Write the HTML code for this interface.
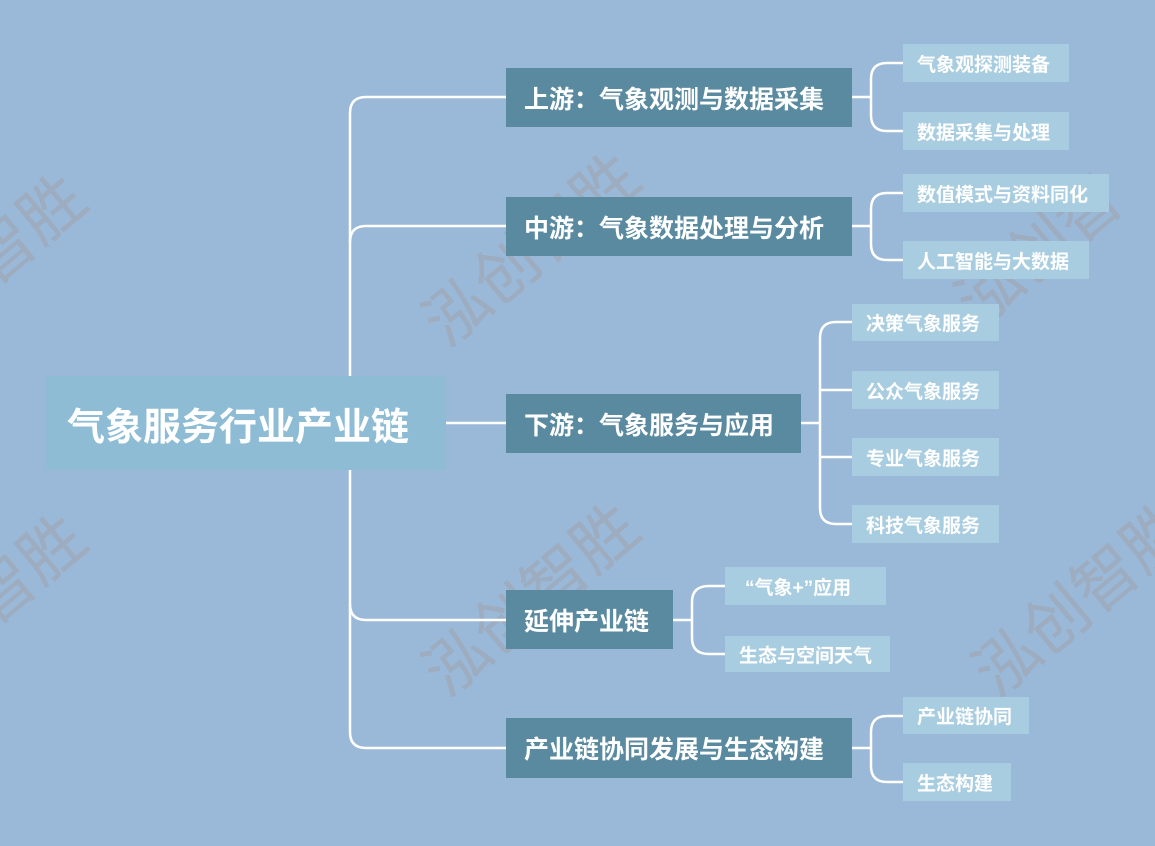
<!DOCTYPE html>
<html><head><meta charset="utf-8"><style>
body{margin:0;width:1155px;height:846px;background:#9ab8d7;position:relative;overflow:hidden;font-family:"Liberation Sans","Noto Sans CJK SC",sans-serif;}
.b{position:absolute;color:#fff;font-weight:bold;display:flex;align-items:center;white-space:nowrap;}
.r{background:#8dbcd4;font-size:38px;padding-left:22px;box-sizing:border-box;}
.m{background:#5a8aa0;font-size:25px;padding-left:18px;box-sizing:border-box;}
.l{background:#a9cde0;font-size:19px;padding-left:14px;box-sizing:border-box;}
.w{position:absolute;color:rgba(160,160,165,0.5);font-size:64px;transform:rotate(-40deg);white-space:nowrap;}
svg{position:absolute;left:0;top:0}
</style></head><body>
<div class="w" style="left:-40px;top:180px">智胜</div>
<div class="w" style="left:400px;top:200px">泓创智胜</div>
<div class="w" style="left:940px;top:200px">泓创智</div>
<div class="w" style="left:-40px;top:520px">智胜</div>
<div class="w" style="left:400px;top:550px">泓创智胜</div>
<div class="w" style="left:950px;top:550px">泓创智胜</div>
<svg width="1155" height="846" fill="none" stroke="#fff" stroke-width="2.5">
<path d="M446 423H506"/>
<path d="M506 97H366Q350 97 350 113V732Q350 748 366 748H506"/>
<path d="M506 226H366Q350 226 350 242"/>
<path d="M506 620H366Q350 620 350 604"/>
<path d="M852 97H870M903 63H887Q871 63 871 79V115Q871 131 887 131H903"/>
<path d="M852 226H870M903 193H887Q871 193 871 209V244Q871 260 887 260H903"/>
<path d="M801 423H819M852 322H836Q820 322 820 338V508Q820 524 836 524H852M820 390H852M820 457H852"/>
<path d="M673 620H691M725 586H709Q692 586 692 602V638Q692 654 709 654H725"/>
<path d="M852 748H870M903 716H887Q871 716 871 732V766Q871 782 887 782H903"/>
</svg>
<div class="b r" style="left:45px;top:376px;width:401px;height:94px">气象服务行业产业链</div>
<div class="b m" style="left:506px;top:68px;width:346px;height:59px">上游：气象观测与数据采集</div>
<div class="b m" style="left:506px;top:197px;width:346px;height:59px">中游：气象数据处理与分析</div>
<div class="b m" style="left:506px;top:394px;width:295px;height:59px">下游：气象服务与应用</div>
<div class="b m" style="left:506px;top:590px;width:167px;height:59px">延伸产业链</div>
<div class="b m" style="left:506px;top:718px;width:346px;height:60px">产业链协同发展与生态构建</div>
<div class="b l" style="left:903px;top:44px;width:166px;height:38px">气象观探测装备</div>
<div class="b l" style="left:903px;top:112px;width:166px;height:38px">数据采集与处理</div>
<div class="b l" style="left:903px;top:174px;width:206px;height:38px">数值模式与资料同化</div>
<div class="b l" style="left:903px;top:241px;width:186px;height:38px">人工智能与大数据</div>
<div class="b l" style="left:852px;top:304px;width:147px;height:37px">决策气象服务</div>
<div class="b l" style="left:852px;top:371px;width:147px;height:38px">公众气象服务</div>
<div class="b l" style="left:852px;top:438px;width:147px;height:38px">专业气象服务</div>
<div class="b l" style="left:852px;top:505px;width:147px;height:38px">科技气象服务</div>
<div class="b l" style="left:725px;top:567px;width:161px;height:38px;padding-left:20px">“气象+”应用</div>
<div class="b l" style="left:725px;top:636px;width:165px;height:36px">生态与空间天气</div>
<div class="b l" style="left:903px;top:697px;width:126px;height:37px">产业链协同</div>
<div class="b l" style="left:903px;top:763px;width:108px;height:38px">生态构建</div>
</body></html>
